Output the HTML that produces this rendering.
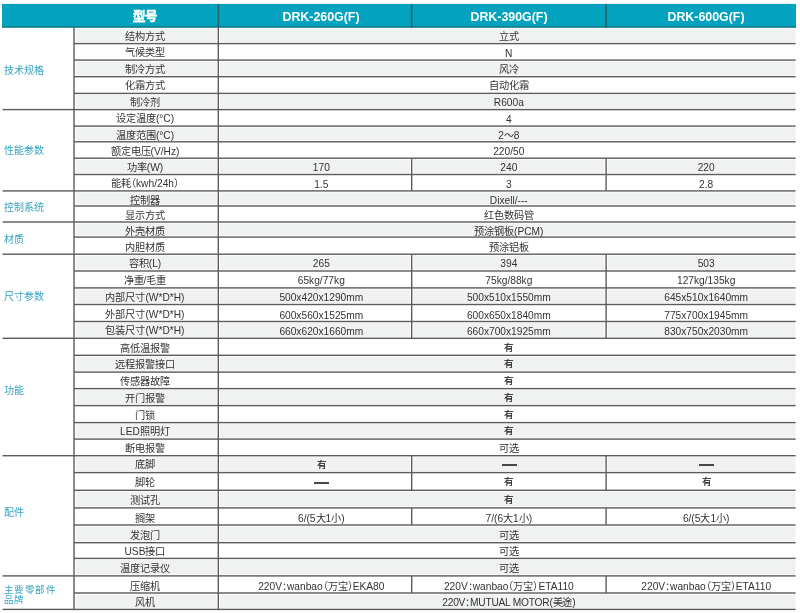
<!DOCTYPE html>
<html lang="zh-CN"><head><meta charset="utf-8">
<style>
html,body{margin:0;padding:0;background:#fff;width:800px;height:613px;overflow:hidden}
body{position:relative;font-family:"Liberation Sans",sans-serif;will-change:transform}
svg{position:absolute;left:0;top:0}
.t,.h{position:absolute;width:320px;text-align:center;white-space:nowrap;color:#333333;font-size:10.2px;font-feature-settings:"halt"}
.h{color:#fff;font-weight:bold;font-size:12.4px}
.y{font-size:9.6px;color:#1a1a1a;-webkit-text-stroke:0.15px #1a1a1a}
.d{position:absolute;width:15px;height:2px;background:#484848}
.c{position:absolute;white-space:nowrap;color:#35a3c0;font-size:10px}
.c2{position:absolute;white-space:nowrap;color:#35a3c0;font-size:9.5px;letter-spacing:0.5px;line-height:9.5px}
</style></head><body>
<svg width="800" height="613" viewBox="0 0 800 613">
<rect x="2.0" y="3.9" width="794.0" height="23.8" fill="#03a2be"/>
<rect x="2.0" y="26.0" width="794.0" height="1.7" fill="#1f6470" opacity="0.6"/>
<rect x="217.5" y="3.9" width="1.6" height="23.8" fill="#1f6470"/>
<rect x="410.9" y="3.9" width="1.6" height="23.8" fill="#1f6470"/>
<rect x="605.3" y="3.9" width="1.6" height="23.8" fill="#1f6470"/>
<rect x="75.7" y="28.6" width="140.9" height="13.6" fill="#f0f1f1"/>
<rect x="220.0" y="28.6" width="575.6" height="13.6" fill="#f0f1f1"/>
<rect x="75.7" y="61.7" width="140.9" height="13.6" fill="#f0f1f1"/>
<rect x="220.0" y="61.7" width="575.6" height="13.6" fill="#f0f1f1"/>
<rect x="75.7" y="95.0" width="140.9" height="13.2" fill="#f0f1f1"/>
<rect x="220.0" y="95.0" width="575.6" height="13.2" fill="#f0f1f1"/>
<rect x="75.7" y="127.7" width="140.9" height="12.7" fill="#f0f1f1"/>
<rect x="220.0" y="127.7" width="575.6" height="12.7" fill="#f0f1f1"/>
<rect x="75.7" y="159.8" width="140.9" height="13.3" fill="#f0f1f1"/>
<rect x="220.0" y="159.8" width="190.0" height="13.3" fill="#f0f1f1"/>
<rect x="413.4" y="159.8" width="191.0" height="13.3" fill="#f0f1f1"/>
<rect x="607.8" y="159.8" width="187.8" height="13.3" fill="#f0f1f1"/>
<rect x="75.7" y="192.5" width="140.9" height="12.1" fill="#f0f1f1"/>
<rect x="220.0" y="192.5" width="575.6" height="12.1" fill="#f0f1f1"/>
<rect x="75.7" y="223.6" width="140.9" height="12.1" fill="#f0f1f1"/>
<rect x="220.0" y="223.6" width="575.6" height="12.1" fill="#f0f1f1"/>
<rect x="75.7" y="255.8" width="140.9" height="13.8" fill="#f0f1f1"/>
<rect x="220.0" y="255.8" width="190.0" height="13.8" fill="#f0f1f1"/>
<rect x="413.4" y="255.8" width="191.0" height="13.8" fill="#f0f1f1"/>
<rect x="607.8" y="255.8" width="187.8" height="13.8" fill="#f0f1f1"/>
<rect x="75.7" y="289.5" width="140.9" height="13.6" fill="#f0f1f1"/>
<rect x="220.0" y="289.5" width="190.0" height="13.6" fill="#f0f1f1"/>
<rect x="413.4" y="289.5" width="191.0" height="13.6" fill="#f0f1f1"/>
<rect x="607.8" y="289.5" width="187.8" height="13.6" fill="#f0f1f1"/>
<rect x="75.7" y="323.1" width="140.9" height="13.8" fill="#f0f1f1"/>
<rect x="220.0" y="323.1" width="190.0" height="13.8" fill="#f0f1f1"/>
<rect x="413.4" y="323.1" width="191.0" height="13.8" fill="#f0f1f1"/>
<rect x="607.8" y="323.1" width="187.8" height="13.8" fill="#f0f1f1"/>
<rect x="75.7" y="356.9" width="140.9" height="13.8" fill="#f0f1f1"/>
<rect x="220.0" y="356.9" width="575.6" height="13.8" fill="#f0f1f1"/>
<rect x="75.7" y="390.2" width="140.9" height="14.0" fill="#f0f1f1"/>
<rect x="220.0" y="390.2" width="575.6" height="14.0" fill="#f0f1f1"/>
<rect x="75.7" y="424.2" width="140.9" height="13.5" fill="#f0f1f1"/>
<rect x="220.0" y="424.2" width="575.6" height="13.5" fill="#f0f1f1"/>
<rect x="75.7" y="457.3" width="140.9" height="13.9" fill="#f0f1f1"/>
<rect x="220.0" y="457.3" width="190.0" height="13.9" fill="#f0f1f1"/>
<rect x="413.4" y="457.3" width="191.0" height="13.9" fill="#f0f1f1"/>
<rect x="607.8" y="457.3" width="187.8" height="13.9" fill="#f0f1f1"/>
<rect x="75.7" y="491.9" width="140.9" height="14.6" fill="#f0f1f1"/>
<rect x="220.0" y="491.9" width="575.6" height="14.6" fill="#f0f1f1"/>
<rect x="75.7" y="526.6" width="140.9" height="14.7" fill="#f0f1f1"/>
<rect x="220.0" y="526.6" width="575.6" height="14.7" fill="#f0f1f1"/>
<rect x="75.7" y="560.0" width="140.9" height="14.5" fill="#f0f1f1"/>
<rect x="220.0" y="560.0" width="575.6" height="14.5" fill="#f0f1f1"/>
<rect x="75.7" y="594.6" width="140.9" height="13.4" fill="#f0f1f1"/>
<rect x="220.0" y="594.6" width="575.6" height="13.4" fill="#f0f1f1"/>
<rect x="74.0" y="42.9" width="721.6" height="1.4" fill="#5c5c5c"/>
<rect x="74.0" y="59.4" width="721.6" height="1.4" fill="#5c5c5c"/>
<rect x="74.0" y="76.0" width="721.6" height="1.4" fill="#5c5c5c"/>
<rect x="74.0" y="92.7" width="721.6" height="1.4" fill="#5c5c5c"/>
<rect x="2.5" y="108.9" width="793.1" height="1.4" fill="#5c5c5c"/>
<rect x="74.0" y="125.4" width="721.6" height="1.4" fill="#5c5c5c"/>
<rect x="74.0" y="141.1" width="721.6" height="1.4" fill="#5c5c5c"/>
<rect x="74.0" y="157.5" width="721.6" height="1.4" fill="#5c5c5c"/>
<rect x="74.0" y="173.8" width="721.6" height="1.4" fill="#5c5c5c"/>
<rect x="2.5" y="190.2" width="793.1" height="1.4" fill="#5c5c5c"/>
<rect x="74.0" y="205.3" width="721.6" height="1.4" fill="#5c5c5c"/>
<rect x="2.5" y="221.3" width="793.1" height="1.4" fill="#5c5c5c"/>
<rect x="74.0" y="236.4" width="721.6" height="1.4" fill="#5c5c5c"/>
<rect x="2.5" y="253.5" width="793.1" height="1.4" fill="#5c5c5c"/>
<rect x="74.0" y="270.3" width="721.6" height="1.4" fill="#5c5c5c"/>
<rect x="74.0" y="287.2" width="721.6" height="1.4" fill="#5c5c5c"/>
<rect x="74.0" y="303.8" width="721.6" height="1.4" fill="#5c5c5c"/>
<rect x="74.0" y="320.8" width="721.6" height="1.4" fill="#5c5c5c"/>
<rect x="2.5" y="337.6" width="793.1" height="1.4" fill="#5c5c5c"/>
<rect x="74.0" y="354.6" width="721.6" height="1.4" fill="#5c5c5c"/>
<rect x="74.0" y="371.4" width="721.6" height="1.4" fill="#5c5c5c"/>
<rect x="74.0" y="387.9" width="721.6" height="1.4" fill="#5c5c5c"/>
<rect x="74.0" y="404.9" width="721.6" height="1.4" fill="#5c5c5c"/>
<rect x="74.0" y="421.9" width="721.6" height="1.4" fill="#5c5c5c"/>
<rect x="74.0" y="438.4" width="721.6" height="1.4" fill="#5c5c5c"/>
<rect x="2.5" y="455.0" width="793.1" height="1.4" fill="#5c5c5c"/>
<rect x="74.0" y="471.9" width="721.6" height="1.4" fill="#5c5c5c"/>
<rect x="74.0" y="489.6" width="721.6" height="1.4" fill="#5c5c5c"/>
<rect x="74.0" y="507.2" width="721.6" height="1.4" fill="#5c5c5c"/>
<rect x="74.0" y="524.3" width="721.6" height="1.4" fill="#5c5c5c"/>
<rect x="74.0" y="542.0" width="721.6" height="1.4" fill="#5c5c5c"/>
<rect x="74.0" y="557.7" width="721.6" height="1.4" fill="#5c5c5c"/>
<rect x="2.5" y="575.2" width="793.1" height="1.4" fill="#5c5c5c"/>
<rect x="74.0" y="592.3" width="721.6" height="1.4" fill="#5c5c5c"/>
<rect x="2.5" y="608.7" width="793.1" height="1.4" fill="#5c5c5c"/>
<rect x="73.3" y="27.0" width="1.4" height="583.1" fill="#5c5c5c"/>
<rect x="217.6" y="27.0" width="1.4" height="583.1" fill="#5c5c5c"/>
<rect x="411.0" y="158.2" width="1.4" height="16.3" fill="#5c5c5c"/>
<rect x="605.4" y="158.2" width="1.4" height="16.3" fill="#5c5c5c"/>
<rect x="411.0" y="174.5" width="1.4" height="16.4" fill="#5c5c5c"/>
<rect x="605.4" y="174.5" width="1.4" height="16.4" fill="#5c5c5c"/>
<rect x="411.0" y="254.2" width="1.4" height="16.8" fill="#5c5c5c"/>
<rect x="605.4" y="254.2" width="1.4" height="16.8" fill="#5c5c5c"/>
<rect x="411.0" y="271.0" width="1.4" height="16.9" fill="#5c5c5c"/>
<rect x="605.4" y="271.0" width="1.4" height="16.9" fill="#5c5c5c"/>
<rect x="411.0" y="287.9" width="1.4" height="16.6" fill="#5c5c5c"/>
<rect x="605.4" y="287.9" width="1.4" height="16.6" fill="#5c5c5c"/>
<rect x="411.0" y="304.5" width="1.4" height="17.0" fill="#5c5c5c"/>
<rect x="605.4" y="304.5" width="1.4" height="17.0" fill="#5c5c5c"/>
<rect x="411.0" y="321.5" width="1.4" height="16.8" fill="#5c5c5c"/>
<rect x="605.4" y="321.5" width="1.4" height="16.8" fill="#5c5c5c"/>
<rect x="411.0" y="455.7" width="1.4" height="16.9" fill="#5c5c5c"/>
<rect x="605.4" y="455.7" width="1.4" height="16.9" fill="#5c5c5c"/>
<rect x="411.0" y="472.6" width="1.4" height="17.7" fill="#5c5c5c"/>
<rect x="605.4" y="472.6" width="1.4" height="17.7" fill="#5c5c5c"/>
<rect x="411.0" y="507.9" width="1.4" height="17.1" fill="#5c5c5c"/>
<rect x="605.4" y="507.9" width="1.4" height="17.1" fill="#5c5c5c"/>
<rect x="411.0" y="575.9" width="1.4" height="17.1" fill="#5c5c5c"/>
<rect x="605.4" y="575.9" width="1.4" height="17.1" fill="#5c5c5c"/>
</svg>
<div class="h" style="left:-15.00px;top:6.40px;height:23.10px;line-height:23.10px"><span style="-webkit-text-stroke:0.35px #fff">型号</span></div>
<div class="h" style="left:161.00px;top:6.40px;height:23.10px;line-height:23.10px">DRK-260G(F)</div>
<div class="h" style="left:349.00px;top:6.40px;height:23.10px;line-height:23.10px">DRK-390G(F)</div>
<div class="h" style="left:546.00px;top:6.40px;height:23.10px;line-height:23.10px">DRK-600G(F)</div>
<div class="t" style="left:-15.00px;top:28.70px;height:16.60px;line-height:16.60px">结构方式</div>
<div class="t" style="left:348.80px;top:28.70px;height:16.60px;line-height:16.60px">立式</div>
<div class="t" style="left:-15.00px;top:45.30px;height:16.50px;line-height:16.50px">气候类型</div>
<div class="t" style="left:348.80px;top:45.60px;height:16.50px;line-height:16.50px">N</div>
<div class="t" style="left:-15.00px;top:61.80px;height:16.60px;line-height:16.60px">制冷方式</div>
<div class="t" style="left:348.80px;top:61.80px;height:16.60px;line-height:16.60px">风冷</div>
<div class="t" style="left:-15.00px;top:78.40px;height:16.70px;line-height:16.70px">化霜方式</div>
<div class="t" style="left:348.80px;top:78.40px;height:16.70px;line-height:16.70px">自动化霜</div>
<div class="t" style="left:-15.00px;top:95.10px;height:16.20px;line-height:16.20px">制冷剂</div>
<div class="t" style="left:348.80px;top:95.40px;height:16.20px;line-height:16.20px">R600a</div>
<div class="t" style="left:-15.00px;top:111.30px;height:16.50px;line-height:16.50px">设定温度(°C)</div>
<div class="t" style="left:348.80px;top:111.60px;height:16.50px;line-height:16.50px">4</div>
<div class="t" style="left:-15.00px;top:127.80px;height:15.70px;line-height:15.70px">温度范围(°C)</div>
<div class="t" style="left:348.80px;top:127.80px;height:15.70px;line-height:15.70px">2～8</div>
<div class="t" style="left:-15.00px;top:143.50px;height:16.40px;line-height:16.40px">额定电压(V/Hz)</div>
<div class="t" style="left:348.80px;top:143.80px;height:16.40px;line-height:16.40px">220/50</div>
<div class="t" style="left:-15.00px;top:159.90px;height:16.30px;line-height:16.30px">功率(W)</div>
<div class="t" style="left:161.30px;top:160.20px;height:16.30px;line-height:16.30px">170</div>
<div class="t" style="left:348.85px;top:160.20px;height:16.30px;line-height:16.30px">240</div>
<div class="t" style="left:546.20px;top:160.20px;height:16.30px;line-height:16.30px">220</div>
<div class="t" style="left:-15.00px;top:176.20px;height:16.40px;line-height:16.40px">能耗（kwh/24h）</div>
<div class="t" style="left:161.30px;top:176.50px;height:16.40px;line-height:16.40px">1.5</div>
<div class="t" style="left:348.85px;top:176.50px;height:16.40px;line-height:16.40px">3</div>
<div class="t" style="left:546.20px;top:176.50px;height:16.40px;line-height:16.40px">2.8</div>
<div class="t" style="left:-15.00px;top:192.60px;height:15.10px;line-height:15.10px">控制器</div>
<div class="t" style="left:348.80px;top:192.90px;height:15.10px;line-height:15.10px">Dixell/---</div>
<div class="t" style="left:-15.00px;top:207.70px;height:16.00px;line-height:16.00px">显示方式</div>
<div class="t" style="left:348.80px;top:207.70px;height:16.00px;line-height:16.00px">红色数码管</div>
<div class="t" style="left:-15.00px;top:223.70px;height:15.10px;line-height:15.10px">外壳材质</div>
<div class="t" style="left:348.80px;top:223.70px;height:15.10px;line-height:15.10px">预涂钢板(PCM)</div>
<div class="t" style="left:-15.00px;top:238.80px;height:17.10px;line-height:17.10px">内胆材质</div>
<div class="t" style="left:348.80px;top:238.80px;height:17.10px;line-height:17.10px">预涂铝板</div>
<div class="t" style="left:-15.00px;top:255.90px;height:16.80px;line-height:16.80px">容积(L)</div>
<div class="t" style="left:161.30px;top:256.20px;height:16.80px;line-height:16.80px">265</div>
<div class="t" style="left:348.85px;top:256.20px;height:16.80px;line-height:16.80px">394</div>
<div class="t" style="left:546.20px;top:256.20px;height:16.80px;line-height:16.80px">503</div>
<div class="t" style="left:-15.00px;top:272.70px;height:16.90px;line-height:16.90px">净重/毛重</div>
<div class="t" style="left:161.30px;top:273.00px;height:16.90px;line-height:16.90px">65kg/77kg</div>
<div class="t" style="left:348.85px;top:273.00px;height:16.90px;line-height:16.90px">75kg/88kg</div>
<div class="t" style="left:546.20px;top:273.00px;height:16.90px;line-height:16.90px">127kg/135kg</div>
<div class="t" style="left:-15.00px;top:289.60px;height:16.60px;line-height:16.60px">内部尺寸(W*D*H)</div>
<div class="t" style="left:161.30px;top:289.90px;height:16.60px;line-height:16.60px">500x420x1290mm</div>
<div class="t" style="left:348.85px;top:289.90px;height:16.60px;line-height:16.60px">500x510x1550mm</div>
<div class="t" style="left:546.20px;top:289.90px;height:16.60px;line-height:16.60px">645x510x1640mm</div>
<div class="t" style="left:-15.00px;top:306.20px;height:17.00px;line-height:17.00px">外部尺寸(W*D*H)</div>
<div class="t" style="left:161.30px;top:306.50px;height:17.00px;line-height:17.00px">600x560x1525mm</div>
<div class="t" style="left:348.85px;top:306.50px;height:17.00px;line-height:17.00px">600x650x1840mm</div>
<div class="t" style="left:546.20px;top:306.50px;height:17.00px;line-height:17.00px">775x700x1945mm</div>
<div class="t" style="left:-15.00px;top:323.20px;height:16.80px;line-height:16.80px">包装尺寸(W*D*H)</div>
<div class="t" style="left:161.30px;top:323.50px;height:16.80px;line-height:16.80px">660x620x1660mm</div>
<div class="t" style="left:348.85px;top:323.50px;height:16.80px;line-height:16.80px">660x700x1925mm</div>
<div class="t" style="left:546.20px;top:323.50px;height:16.80px;line-height:16.80px">830x750x2030mm</div>
<div class="t" style="left:-15.00px;top:340.00px;height:17.00px;line-height:17.00px">高低温报警</div>
<div class="t y" style="left:349.20px;top:339.10px;height:17.00px;line-height:17.00px">有</div>
<div class="t" style="left:-15.00px;top:357.00px;height:16.80px;line-height:16.80px">远程报警接口</div>
<div class="t y" style="left:349.20px;top:356.10px;height:16.80px;line-height:16.80px">有</div>
<div class="t" style="left:-15.00px;top:373.80px;height:16.50px;line-height:16.50px">传感器故障</div>
<div class="t y" style="left:349.20px;top:372.90px;height:16.50px;line-height:16.50px">有</div>
<div class="t" style="left:-15.00px;top:390.30px;height:17.00px;line-height:17.00px">开门报警</div>
<div class="t y" style="left:349.20px;top:389.40px;height:17.00px;line-height:17.00px">有</div>
<div class="t" style="left:-15.00px;top:407.30px;height:17.00px;line-height:17.00px">门锁</div>
<div class="t y" style="left:349.20px;top:406.40px;height:17.00px;line-height:17.00px">有</div>
<div class="t" style="left:-15.00px;top:424.30px;height:16.50px;line-height:16.50px">LED照明灯</div>
<div class="t y" style="left:349.20px;top:423.40px;height:16.50px;line-height:16.50px">有</div>
<div class="t" style="left:-15.00px;top:440.80px;height:16.60px;line-height:16.60px">断电报警</div>
<div class="t" style="left:348.80px;top:440.80px;height:16.60px;line-height:16.60px">可选</div>
<div class="t" style="left:-15.00px;top:457.40px;height:16.90px;line-height:16.90px">底脚</div>
<div class="t y" style="left:161.70px;top:456.50px;height:16.90px;line-height:16.90px">有</div>
<div class="t" style="left:-15.00px;top:474.30px;height:17.70px;line-height:17.70px">脚轮</div>
<div class="t y" style="left:349.25px;top:473.40px;height:17.70px;line-height:17.70px">有</div>
<div class="t y" style="left:546.60px;top:473.40px;height:17.70px;line-height:17.70px">有</div>
<div class="t" style="left:-15.00px;top:492.00px;height:17.60px;line-height:17.60px">测试孔</div>
<div class="t y" style="left:349.20px;top:491.10px;height:17.60px;line-height:17.60px">有</div>
<div class="t" style="left:-15.00px;top:509.60px;height:17.10px;line-height:17.10px">搁架</div>
<div class="t" style="left:161.30px;top:509.60px;height:17.10px;line-height:17.10px">6/(5大1小)</div>
<div class="t" style="left:348.85px;top:509.60px;height:17.10px;line-height:17.10px">7/(6大1小)</div>
<div class="t" style="left:546.20px;top:509.60px;height:17.10px;line-height:17.10px">6/(5大1小)</div>
<div class="t" style="left:-15.00px;top:526.70px;height:17.70px;line-height:17.70px">发泡门</div>
<div class="t" style="left:348.80px;top:526.70px;height:17.70px;line-height:17.70px">可选</div>
<div class="t" style="left:-15.00px;top:544.40px;height:15.70px;line-height:15.70px">USB接口</div>
<div class="t" style="left:348.80px;top:544.40px;height:15.70px;line-height:15.70px">可选</div>
<div class="t" style="left:-15.00px;top:560.10px;height:17.50px;line-height:17.50px">温度记录仪</div>
<div class="t" style="left:348.80px;top:560.10px;height:17.50px;line-height:17.50px">可选</div>
<div class="t" style="left:-15.00px;top:577.60px;height:17.10px;line-height:17.10px">压缩机</div>
<div class="t" style="left:161.30px;top:577.60px;height:17.10px;line-height:17.10px">220V：wanbao（万宝）EKA80</div>
<div class="t" style="left:348.85px;top:577.60px;height:17.10px;line-height:17.10px">220V：wanbao（万宝）ETA110</div>
<div class="t" style="left:546.20px;top:577.60px;height:17.10px;line-height:17.10px">220V：wanbao（万宝）ETA110</div>
<div class="t" style="left:-15.00px;top:594.70px;height:16.40px;line-height:16.40px">风机</div>
<div class="t" style="left:348.80px;top:594.70px;height:16.40px;line-height:16.40px"><span style="letter-spacing:-0.22px">220V：MUTUAL MOTOR(美途)</span></div>
<div class="c" style="left:3.5px;top:63.20px;height:16px;line-height:16px">技术规格</div>
<div class="c" style="left:3.5px;top:142.80px;height:16px;line-height:16px">性能参数</div>
<div class="c" style="left:3.5px;top:199.90px;height:16px;line-height:16px">控制系统</div>
<div class="c" style="left:3.5px;top:231.50px;height:16px;line-height:16px">材质</div>
<div class="c" style="left:3.5px;top:288.70px;height:16px;line-height:16px">尺寸参数</div>
<div class="c" style="left:3.5px;top:383.20px;height:16px;line-height:16px">功能</div>
<div class="c" style="left:3.5px;top:504.60px;height:16px;line-height:16px">配件</div>
<div class="c2" style="left:3.5px;top:585.00px">主要零部件<br>品牌</div>
<div class="d" style="left:501.85px;top:463.75px"></div>
<div class="d" style="left:699.20px;top:463.75px"></div>
<div class="d" style="left:314.30px;top:482.30px"></div>
</body></html>
